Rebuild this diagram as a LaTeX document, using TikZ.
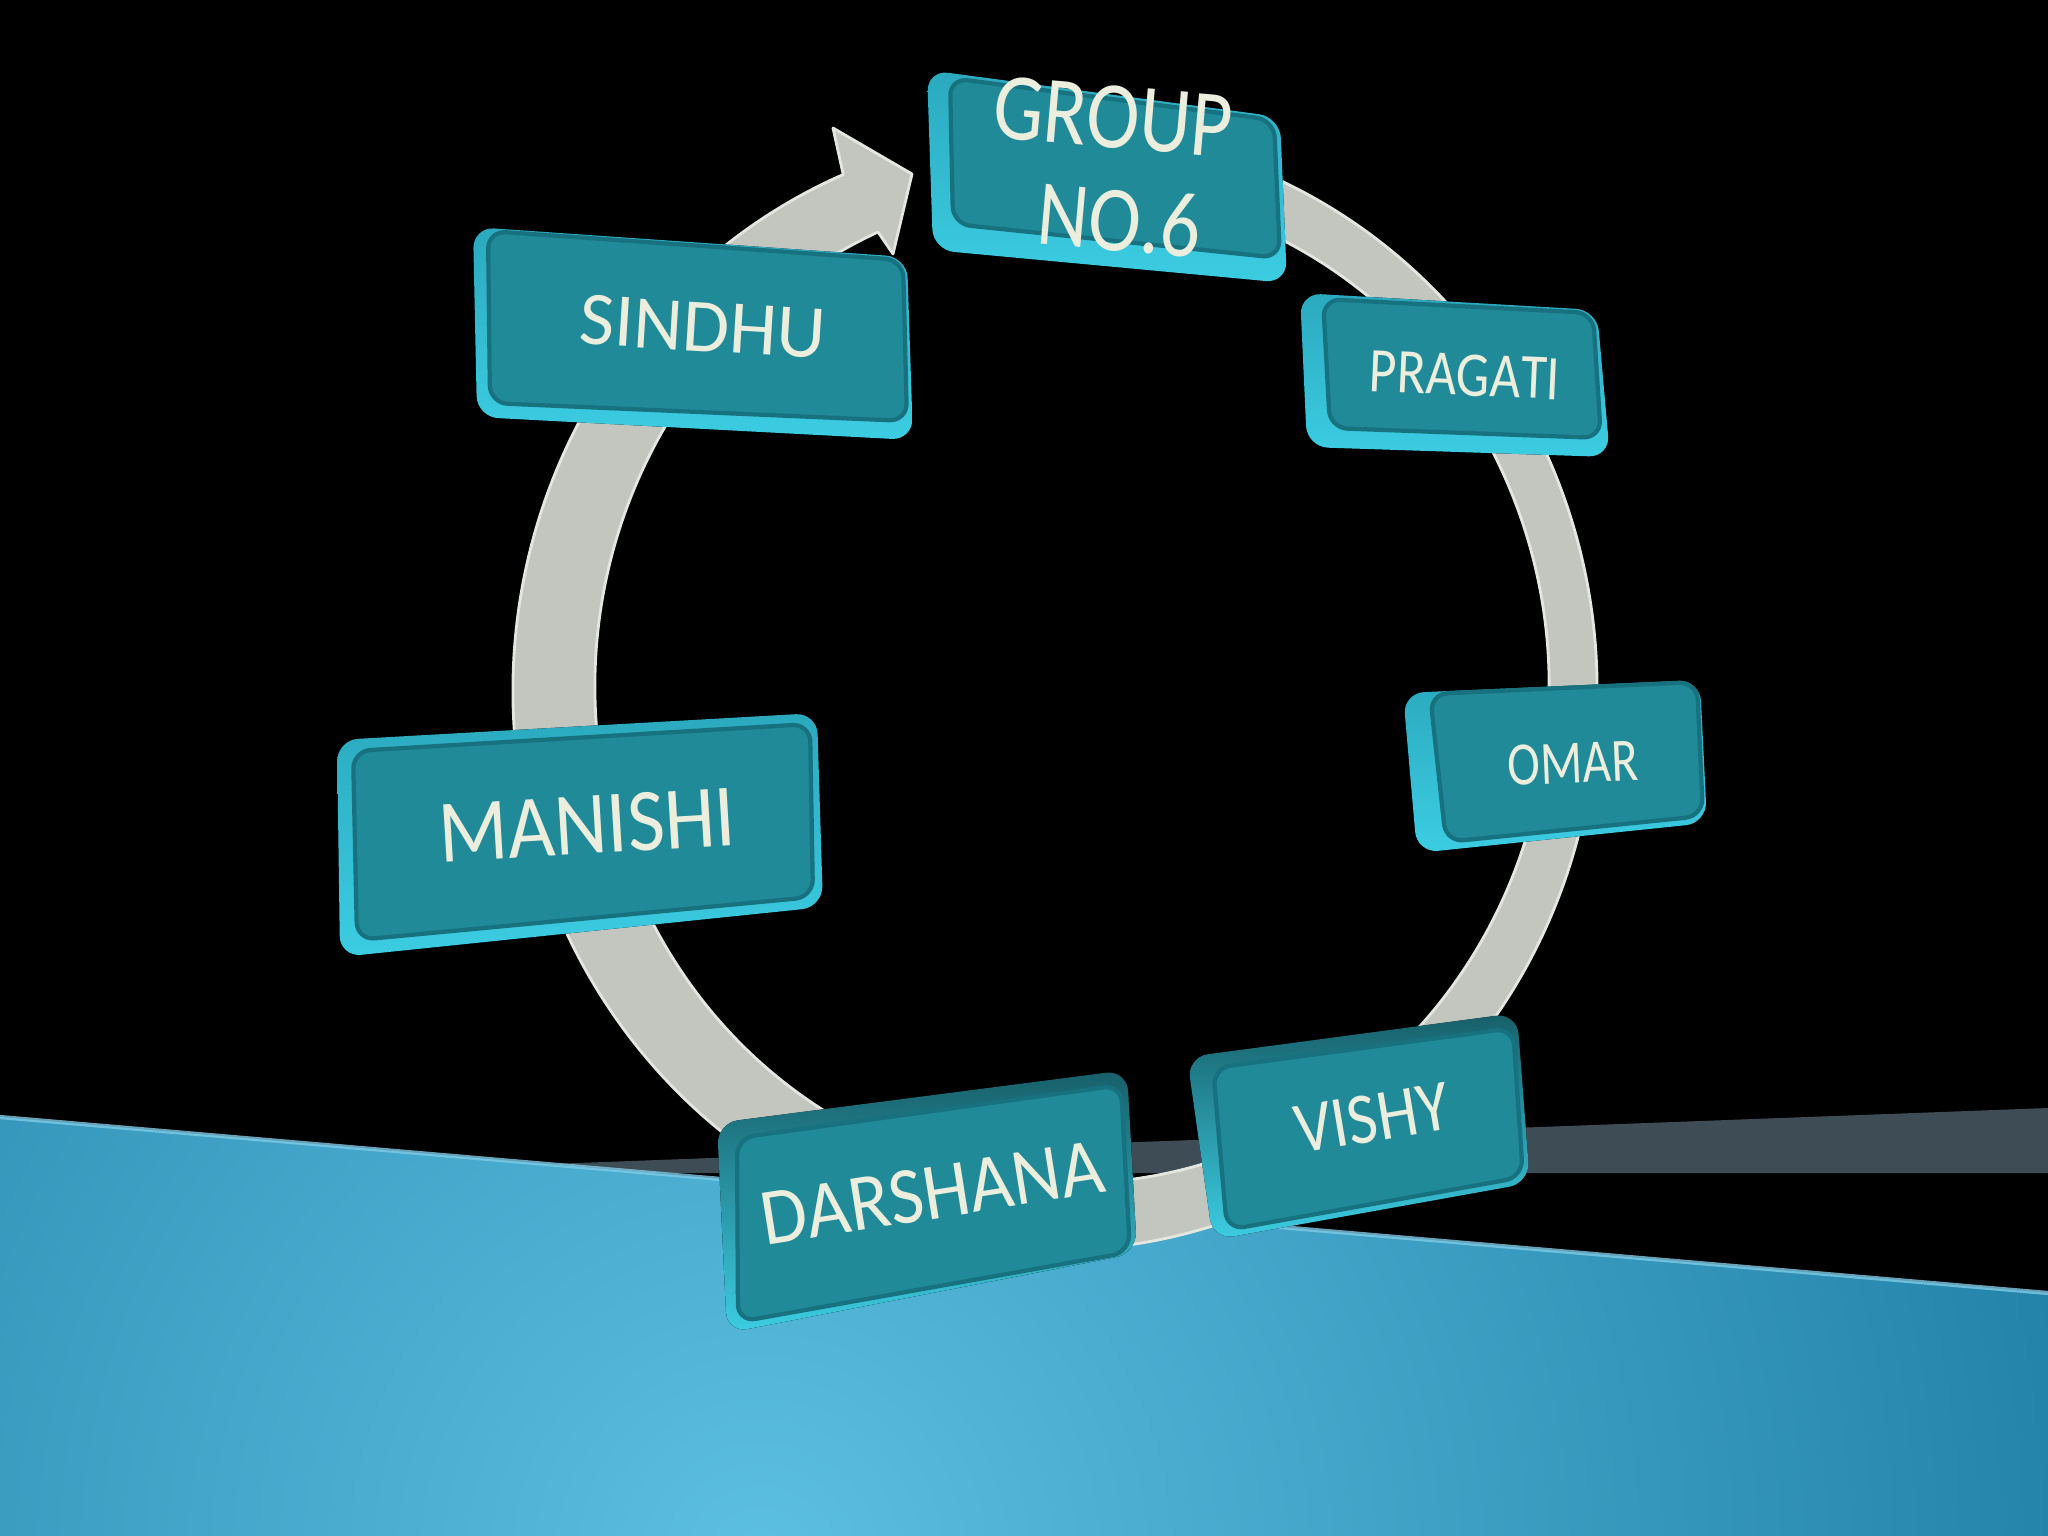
\documentclass[tikz,border=0pt]{standalone}
\usepackage{fontspec}
\setmainfont{Carlito}[Kerning=Off]
\definecolor{blueL}{HTML}{5CC0E2}
\definecolor{blueD}{HTML}{0B6890}
\definecolor{blueHi}{HTML}{7FCBE6}
\definecolor{slate}{HTML}{3E4D55}
\definecolor{ringc}{HTML}{C3C6BE}
\definecolor{ringe}{HTML}{E4E6E0}
\definecolor{facec}{HTML}{208A99}
\definecolor{faceD}{HTML}{17717E}
\definecolor{rimL}{HTML}{3CCDE3}
\definecolor{rimM}{HTML}{2BA9BE}
\definecolor{rimD}{HTML}{175F69}
\definecolor{txtc}{HTML}{ECEEDD}
\tikzset{
  rimbox/.style={top color=rimM, bottom color=rimL, rounded corners=6pt},
  rimdark/.style={top color=rimD, bottom color=rimL, rounded corners=6pt},
  facebox/.style={fill=facec, draw=faceD, line width=1.2pt, rounded corners=5pt},
  lbl/.style={text=txtc, inner sep=0pt, anchor=center},
  ringstyle/.style={fill=ringc, draw=ringe, line width=0.8pt, line join=round},
}
\begin{document}
\begin{tikzpicture}[x=0.01cm, y=-0.01cm]
\useasboundingbox (0,0) rectangle (2048,1536);
\fill[black] (0,0) rectangle (2048,1536);

% slate band
\fill[slate] (551,1164) -- (2048,1108) -- (2048,1173) -- (651,1173) -- cycle;

% blue floor
\begin{scope}
\clip (0,1117) -- (2048,1293) -- (2048,1536) -- (0,1536) -- cycle;
\shade[inner color=blueL, outer color=blueD] (760,1560) circle (1900);
\end{scope}
\draw[blueHi, line width=1.2pt, opacity=0.8] (0,1117) -- (2048,1293);

% ring with arrow (outer ellipse clockwise, arrowhead, inner ellipse back)
\path[ringstyle]
  (1055,690) ++(-80:542 and 560)
  arc[start angle=-80, end angle=247, x radius=542, y radius=560]
  -- (833,128) -- (912,174) -- (893,254) -- (878,232)
  arc[start angle=246, end angle=-80, x radius=477, y radius=497]
  -- cycle;

% boxes
\fill[rimbox] (927,70) -- (1280,117) -- (1287,283) -- (933,250) -- cycle;
\filldraw[facebox] (950,78) -- (1274,120) -- (1280,258) -- (953,224) -- cycle;

\fill[rimbox] (473,227) -- (907,257) -- (913,440) -- (477,417) -- cycle;
\filldraw[facebox] (488,231) -- (903,260) -- (907,421) -- (490,403) -- cycle;

\fill[rimbox] (1300,293) -- (1597,310) -- (1610,457) -- (1307,447) -- cycle;
\filldraw[facebox] (1323,299) -- (1593,313) -- (1601,438) -- (1330,428) -- cycle;

\fill[rimbox] (1403,693) -- (1700,680) -- (1707,823) -- (1417,853) -- cycle;
\filldraw[facebox] (1430,694) -- (1697,682) -- (1703,816) -- (1446,842) -- cycle;

\fill[rimbox] (337,740) -- (817,713) -- (823,907) -- (340,957) -- cycle;
\filldraw[facebox] (353,751) -- (810,724) -- (813,897) -- (357,940) -- cycle;

\fill[rimdark] (717,1123) -- (1127,1070) -- (1137,1253) -- (727,1333) -- cycle;
\filldraw[facebox] (737,1138) -- (1121,1085) -- (1130,1252) -- (738,1322) -- cycle;

\fill[rimdark] (1187,1057) -- (1517,1013) -- (1530,1183) -- (1213,1240) -- cycle;
\filldraw[facebox] (1213,1068) -- (1513,1028) -- (1523,1177) -- (1227,1230) -- cycle;

% labels
\node[lbl, rotate=-5, yscale=1.2, font=\fontsize{22.7}{27}\selectfont] (group1) at (1113,117) {GROUP};
\node[lbl, rotate=-5, yscale=1.18, font=\fontsize{22.5}{27}\selectfont] (group2) at (1120,220) {NO.6};
\node[lbl, rotate=-3.5, font=\fontsize{21.6}{26}\selectfont] (sindhu) at (703,327) {SINDHU};
\node[lbl, rotate=-2.5, yscale=1.2, font=\fontsize{15.1}{18}\selectfont] (pragati) at (1465,375) {PRAGATI};
\node[lbl, rotate=2.5, yscale=1.25, font=\fontsize{14}{17}\selectfont] (omar) at (1573,763) {OMAR};
\node[lbl, rotate=3.4, yscale=1.1, font=\fontsize{23.1}{28}\selectfont] (manishi) at (587,825) {MANISHI};
\node[lbl, rotate=9, yscale=1.08, font=\fontsize{21.3}{26}\selectfont] (darshana) at (932,1193) {DARSHANA};
\node[lbl, rotate=9.5, yscale=1.12, font=\fontsize{18.5}{22}\selectfont] (vishy) at (1372,1118) {VISHY};
\end{tikzpicture}
\end{document}
